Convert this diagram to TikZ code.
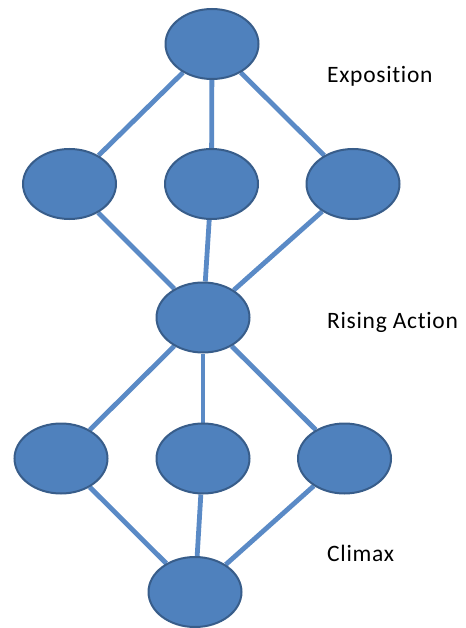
\documentclass[tikz,border=0pt]{standalone}
\usepackage{fontspec}
\setmainfont{Carlito}
\newfontfamily\stagefont[Ligatures=NoCommon, LetterSpace=3]{Carlito}
\usetikzlibrary{shapes.geometric,backgrounds}
\definecolor{nodefill}{HTML}{4F81BD}
\definecolor{nodeedge}{HTML}{385D8A}
\definecolor{linkblue}{HTML}{5A8AC6}
\tikzset{
  plotnode/.style={ellipse, draw=nodeedge, line width=2pt, fill=nodefill,
    minimum width=93pt, minimum height=70pt, inner sep=0pt},
  link/.style={draw=linkblue, line width=4.8pt},
  stage/.style={anchor=base west, font=\stagefont\fontsize{23.5}{27}\selectfont, text=black, inner sep=0pt}
}
\begin{document}
\begin{tikzpicture}[x=1pt, y=-1pt]
  \useasboundingbox (0,0) rectangle (465,628);
  % plot nodes
  \node[plotnode] (top) at (212,44) {};
  \node[plotnode] (a1) at (69.5,184) {};
  \node[plotnode] (a2) at (211.5,184) {};
  \node[plotnode] (a3) at (353,184) {};
  \node[plotnode] (mid) at (203,317.5) {};
  \node[plotnode] (b1) at (61,458.5) {};
  \node[plotnode] (b2) at (203,458.5) {};
  \node[plotnode] (b3) at (344.5,458.5) {};
  \node[plotnode] (bot) at (195,592) {};
  % connectors behind the nodes
  \begin{scope}[on background layer]
    \foreach \u/\v in {top/a1, top/a2, top/a3, a1/mid, a2/mid, a3/mid,
                       mid/b1, mid/b2, mid/b3, b1/bot, b2/bot, b3/bot}
      \draw[link] (\u) -- (\v);
  \end{scope}
  % stage labels
  \node[stage] (expo) at (327,83) {Exposition};
  \node[stage] (rise) at (327,328.5) {Rising Action};
  \node[stage] (clim) at (327,561) {Climax};
\end{tikzpicture}
\end{document}
